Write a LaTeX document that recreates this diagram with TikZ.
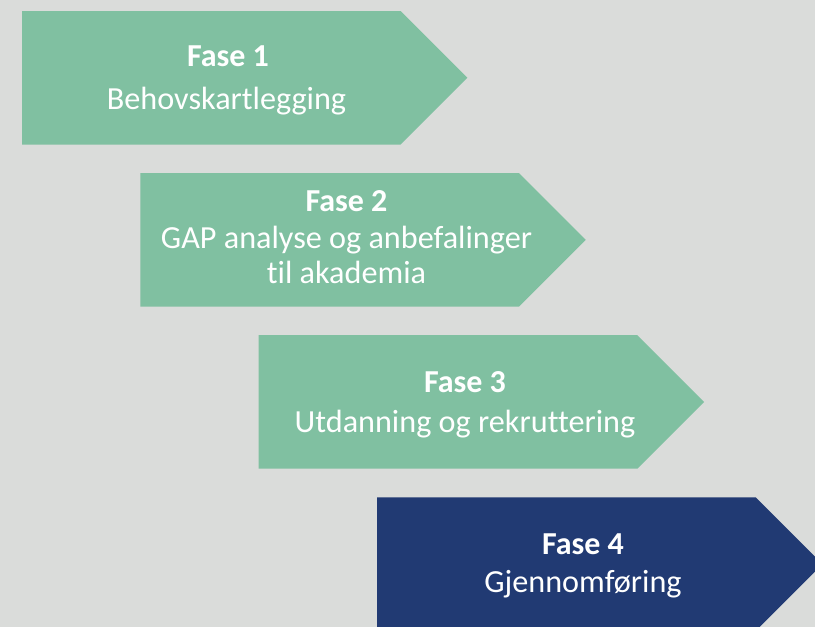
\documentclass[tikz,border=0pt]{standalone}
\usepackage{fontspec}
\setmainfont{Carlito}[Ligatures=NoCommon]
\definecolor{bg}{RGB}{218,220,218}
\definecolor{phasegreen}{RGB}{128,192,161}
\definecolor{phaseblue}{RGB}{33,58,115}
\begin{document}
\begin{tikzpicture}[x=1pt,y=-1pt,
  txt/.style={text=white,font=\fontsize{32.2}{38}\selectfont,anchor=base,inner sep=0pt},
  ttl/.style={text=white,font=\fontsize{32}{38}\selectfont\bfseries,anchor=base,inner sep=0pt}]
\useasboundingbox (0,0) rectangle (815,627);
\clip (0,0) rectangle (815,627);
\fill[bg] (0,0) rectangle (815,627);
% arrows
\fill[phasegreen] (22,11) -- ++(378.7,0) -- ++(66.75,66.75) -- ++(-66.75,66.75) -- ++(-378.7,0) -- cycle;
\fill[phasegreen] (140.3,173.1) -- ++(378.7,0) -- ++(66.75,66.75) -- ++(-66.75,66.75) -- ++(-378.7,0) -- cycle;
\fill[phasegreen] (258.7,335.2) -- ++(378.7,0) -- ++(66.75,66.75) -- ++(-66.75,66.75) -- ++(-378.7,0) -- cycle;
\fill[phaseblue] (377,497.3) -- ++(378.7,0) -- ++(66.75,66.75) -- ++(-66.75,66.75) -- ++(-378.7,0) -- cycle;
% texts
\node[ttl] (f1) at (228,66) {Fase 1};
\node[txt] (d1) at (226.5,109.5) {Behovskartlegging};
\node[ttl] (f2) at (346.5,211) {Fase 2};
\node[txt] (d2a) at (346.5,248) {GAP analyse og anbefalinger};
\node[txt] (d2b) at (346.5,283) {til akademia};
\node[ttl] (f3) at (465,392) {Fase 3};
\node[txt] (d3) at (465,432) {Utdanning og rekruttering};
\node[ttl] (f4) at (583,554) {Fase 4};
\node[txt] (d4) at (583,592) {Gjennomføring};
\end{tikzpicture}
\end{document}
